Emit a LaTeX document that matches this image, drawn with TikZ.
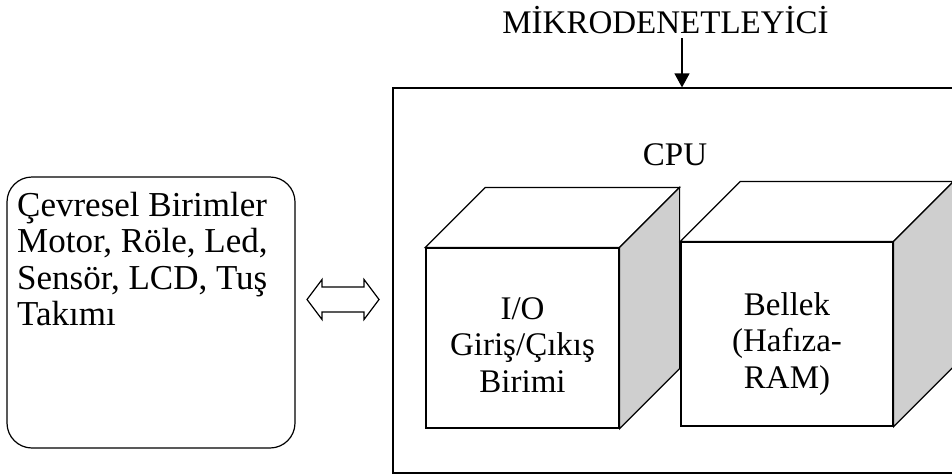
\documentclass[tikz,border=0pt]{standalone}
\usepackage{fontspec}
\setmainfont{Liberation Serif}
\usepackage{tikz}
\usetikzlibrary{calc, positioning, arrows.meta}
\tikzset{
    frame/.style={rectangle, draw=black, line width=1.2pt, inner sep=0pt},
    periph/.style={rectangle, draw=black, line width=1.2pt, rounded corners=25pt, inner sep=0pt},
    face/.style={rectangle, draw=black, line width=1.2pt, fill=white, inner sep=0pt},
    topface/.style={draw=black, line width=1.2pt, fill=white, line join=miter},
    sideface/.style={draw=black, line width=1.2pt, fill=black!19, line join=miter},
    label/.style={font=\fontsize{33}{36.5}\selectfont, inner sep=0pt, align=center},
    biglabel/.style={font=\fontsize{35}{36.5}\selectfont, inner sep=0pt, align=left},
    link/.style={draw=black, line width=1.2pt, line join=miter},
    arrow/.style={-{Triangle[length=14pt, width=15pt]}, line width=1.2pt}
}

\begin{document}
\begin{tikzpicture}[x=1pt, y=-1pt]
    \useasboundingbox (0,0) rectangle (952,474);

    % Microcontroller frame (right side runs off the page)
    \node[frame, minimum width=577pt, minimum height=385pt] (mcu) at (681.5,280.5) {};
    \node[label, anchor=base] (title) at (665.5,33) {MİKRODENETLEYİCİ};
    \coordinate (tstem) at (682,38);
    \draw[arrow] (tstem) -- (tstem |- mcu.north);

    \node[label, anchor=base] (cpu) at (675,165) {CPU};

    % I/O cube
    \node[face, minimum width=193pt, minimum height=180pt] (io) at (522.5,338) {};
    \draw[topface] (io.north west) -- ++(60,-60) -- ([shift={(60,-60)}]io.north east) -- (io.north east) -- cycle;
    \draw[sideface] (io.north east) -- ++(60,-60) -- ([shift={(60,-60)}]io.south east) -- (io.south east) -- cycle;
    \node[label] (iotxt) at ([yshift=-7pt]io.center) {I/O\\Giriş/Çıkış\\Birimi};

    % Memory cube
    \node[face, minimum width=212pt, minimum height=184pt] (mem) at (787,334) {};
    \draw[topface] (mem.north west) -- ++(60,-60) -- ([shift={(60,-60)}]mem.north east) -- (mem.north east) -- cycle;
    \draw[sideface] (mem.north east) -- ++(60,-60) -- ([shift={(60,-60)}]mem.south east) -- (mem.south east) -- cycle;
    \node[label] (memtxt) at ([yshift=-10pt]mem.center) {Bellek\\(Hafıza-\\RAM)};

    % Peripherals
    \node[periph, minimum width=288pt, minimum height=271pt] (dev) at (151,312.5) {};
    \node[biglabel, anchor=north west] (devtxt) at (17,192)
        {Çevresel Birimler\\Motor, Röle, Led,\\Sensör, LCD, Tuş\\Takımı};

    % Link (hollow double arrow)
    \coordinate (bus) at (343,299.5);
    \draw[link] ($(bus)+(-36,0)$) -- ++(15,-20) -- ++(0,7.5) -- ++(42,0) -- ++(0,-7.5)
        -- ++(15,20) -- ++(-15,20) -- ++(0,-7.5) -- ++(-42,0) -- ++(0,7.5) -- cycle;
\end{tikzpicture}
\end{document}
